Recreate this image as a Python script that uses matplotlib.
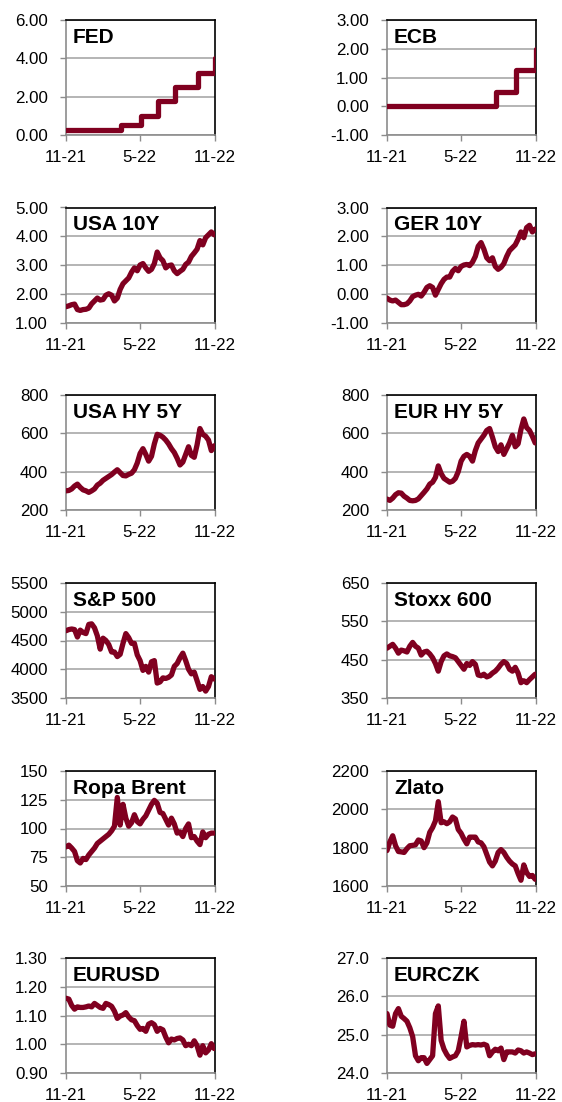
import matplotlib
matplotlib.use("Agg")
import matplotlib.pyplot as plt
from matplotlib.ticker import FormatStrFormatter
import pandas as pd

plt.rcParams['font.family'] = ['Liberation Sans', 'DejaVu Sans']

# ---------------- data ----------------
weeks = pd.date_range('2021-11-02', periods=53, freq='7D')

fed_dates = ['2021-11-02', '2022-03-17', '2022-05-05', '2022-06-16', '2022-07-28', '2022-09-22', '2022-11-03']
fed_rates = [0.25, 0.50, 1.00, 1.75, 2.50, 3.25, 4.00]
ecb_dates = ['2021-11-02', '2022-07-27', '2022-09-14', '2022-11-02', '2022-11-03']
ecb_rates = [0.00, 0.50, 1.25, 2.00, 2.00]

usa10y = [1.55, 1.58, 1.62, 1.64, 1.45, 1.42, 1.45, 1.46, 1.50, 1.65, 1.75, 1.85, 1.78, 1.80, 1.95, 2.00,
          1.95, 1.75, 1.85, 2.15, 2.35, 2.45, 2.55, 2.75, 2.90, 2.80, 3.00, 3.05, 2.90, 2.78, 2.85, 3.05,
          3.45, 3.25, 3.15, 2.90, 2.98, 3.00, 2.80, 2.70, 2.78, 2.85, 3.02, 3.10, 3.30, 3.42, 3.55, 3.85,
          3.70, 3.95, 4.05, 4.15, 4.05]
ger10y = [-0.15, -0.22, -0.25, -0.22, -0.30, -0.38, -0.38, -0.35, -0.25, -0.10, -0.05, -0.02, -0.08, 0.05,
          0.22, 0.28, 0.22, -0.05, 0.15, 0.35, 0.50, 0.58, 0.58, 0.78, 0.88, 0.80, 0.95, 1.00, 1.02, 0.98,
          1.10, 1.30, 1.65, 1.78, 1.55, 1.25, 1.15, 1.25, 0.95, 0.85, 0.92, 1.05, 1.30, 1.50, 1.60, 1.70,
          1.90, 2.15, 1.95, 2.30, 2.38, 2.15, 2.25]
usahy = [300, 302, 310, 325, 335, 318, 305, 300, 292, 300, 310, 330, 340, 355, 365, 375, 385, 398, 410,
         395, 380, 378, 386, 392, 410, 445, 495, 520, 490, 455, 480, 545, 595, 590, 580, 565, 545, 520,
         500, 470, 435, 450, 490, 530, 485, 475, 540, 625, 595, 585, 565, 510, 535]
eurhy = [257, 250, 262, 280, 290, 288, 272, 262, 250, 248, 250, 258, 275, 292, 310, 335, 345, 370, 430,
         390, 365, 355, 345, 350, 365, 400, 455, 480, 490, 480, 455, 510, 550, 570, 590, 615, 625, 580,
         530, 505, 540, 490, 520, 550, 590, 530, 545, 620, 675, 630, 615, 585, 550]
sp500 = [4670, 4690, 4700, 4690, 4560, 4680, 4640, 4620, 4780, 4790, 4720, 4580, 4350, 4540, 4500, 4430,
         4300, 4300, 4220, 4260, 4450, 4620, 4550, 4450, 4450, 4250, 4150, 3980, 4050, 3950, 4130, 4150,
         3760, 3780, 3850, 3840, 3860, 3900, 4050, 4100, 4200, 4280, 4150, 4000, 3920, 3950, 3800, 3650,
         3700, 3620, 3700, 3870, 3830]
stoxx600 = [480, 485, 490, 480, 467, 475, 473, 470, 485, 495, 485, 480, 462, 470, 472, 465, 455, 440, 420,
            445, 460, 465, 460, 458, 455, 445, 435, 425, 440, 435, 445, 438, 410, 408, 412, 405, 408, 415,
            420, 428, 438, 445, 440, 425, 420, 430, 415, 390, 395, 390, 398, 405, 412]
brent = [84, 85.5, 83, 80, 72, 70, 74, 73, 77, 80, 83, 87, 89, 91, 93, 95, 98, 102, 127, 103, 121, 109,
         102, 105, 112, 106, 104, 108, 111, 116, 121, 124.5, 122, 114, 113, 108, 103, 109, 104, 96, 97,
         93, 100, 104, 92, 93, 89, 86, 97, 92, 95, 96, 96]
gold = [1785, 1830, 1862, 1810, 1780, 1778, 1775, 1795, 1810, 1812, 1815, 1840, 1835, 1800, 1825, 1880,
        1905, 1940, 2040, 1930, 1935, 1925, 1935, 1960, 1950, 1895, 1875, 1845, 1820, 1855, 1855, 1855,
        1830, 1825, 1805, 1765, 1725, 1705, 1730, 1775, 1790, 1775, 1750, 1730, 1715, 1705, 1665, 1630,
        1710, 1670, 1650, 1655, 1635]
eurusd = [1.160, 1.157, 1.135, 1.122, 1.130, 1.128, 1.128, 1.130, 1.133, 1.130, 1.142, 1.135, 1.128, 1.125,
          1.142, 1.138, 1.132, 1.115, 1.090, 1.098, 1.102, 1.110, 1.095, 1.085, 1.082, 1.065, 1.052, 1.055,
          1.045, 1.070, 1.075, 1.068, 1.045, 1.055, 1.050, 1.025, 1.005, 1.018, 1.015, 1.020, 1.022, 1.015,
          0.995, 1.000, 0.995, 1.012, 0.995, 0.962, 0.995, 0.970, 0.980, 1.002, 0.985]
eurczk = [25.55, 25.25, 25.22, 25.55, 25.68, 25.48, 25.42, 25.35, 25.18, 24.95, 24.45, 24.32, 24.40, 24.40,
          24.25, 24.35, 24.45, 25.55, 25.75, 24.85, 24.62, 24.48, 24.38, 24.42, 24.45, 24.58, 24.95, 25.35,
          24.68, 24.72, 24.74, 24.73, 24.74, 24.73, 24.75, 24.72, 24.45, 24.55, 24.62, 24.58, 24.65, 24.35,
          24.55, 24.55, 24.55, 24.52, 24.60, 24.58, 24.52, 24.55, 24.52, 24.48, 24.50]

x_ticks = ['2021-11-02', '2022-05-02', '2022-11-03']
x_labels = ['11-21', '5-22', '11-22']

panels = [
    # title, x, y, step, yticks, fmt
    ('FED', fed_dates, fed_rates, True, [0, 2, 4, 6], '%.2f'),
    ('ECB', ecb_dates, ecb_rates, True, [-1, 0, 1, 2, 3], '%.2f'),
    ('USA 10Y', weeks, usa10y, False, [1, 2, 3, 4, 5], '%.2f'),
    ('GER 10Y', weeks, ger10y, False, [-1, 0, 1, 2, 3], '%.2f'),
    ('USA HY 5Y', weeks, usahy, False, [200, 400, 600, 800], '%d'),
    ('EUR HY 5Y', weeks, eurhy, False, [200, 400, 600, 800], '%d'),
    ('S&P 500', weeks, sp500, False, [3500, 4000, 4500, 5000, 5500], '%d'),
    ('Stoxx 600', weeks, stoxx600, False, [350, 450, 550, 650], '%d'),
    ('Ropa Brent', weeks, brent, False, [50, 75, 100, 125, 150], '%d'),
    ('Zlato', weeks, gold, False, [1600, 1800, 2000, 2200], '%d'),
    ('EURUSD', weeks, eurusd, False, [0.90, 1.00, 1.10, 1.20, 1.30], '%.2f'),
    ('EURCZK', weeks, eurczk, False, [24.0, 25.0, 26.0, 27.0], '%.1f'),
]

# ---------------- layout ----------------
W, H = 562, 1102
fig = plt.figure(figsize=(W / 100, H / 100), dpi=100)
col_left = [66, 387]
ax_w = 149
row_top = [20, 207.5, 395, 583, 771, 958]
ax_h = 115
line_color = '#800020'
grid_color = '#A0A0A0'
spine_gray = '#8C8C8C'

for i, (title, xs, ys, step, yticks, fmt) in enumerate(panels):
    r, c = divmod(i, 2)
    left = col_left[c] / W
    bottom = 1 - (row_top[r] + ax_h) / H
    ax = fig.add_axes([left, bottom, ax_w / W, ax_h / H])
    xd = pd.to_datetime(xs)
    ax.plot(xd, ys, color=line_color, lw=3.8,
            drawstyle='steps-post' if step else 'default',
            solid_capstyle='round', solid_joinstyle='round', zorder=3)
    ax.set_xlim(pd.Timestamp(x_ticks[0]), pd.Timestamp(x_ticks[-1]))
    ax.set_ylim(yticks[0], yticks[-1])
    ax.set_yticks(yticks)
    ax.yaxis.set_major_formatter(FormatStrFormatter(fmt))
    ax.set_xticks(pd.to_datetime(x_ticks))
    ax.set_xticklabels(x_labels)
    ax.grid(axis='y', color=grid_color, lw=1.1, zorder=1)
    ax.grid(axis='x', visible=False)
    for s in ['top', 'right']:
        ax.spines[s].set_color('black')
        ax.spines[s].set_linewidth(1.2)
    for s in ['left', 'bottom']:
        ax.spines[s].set_color(spine_gray)
        ax.spines[s].set_linewidth(1.2)
    ax.tick_params(axis='both', direction='out', length=4.5, width=1.0, color=spine_gray,
                   labelsize=12.2, labelcolor='black')
    ax.tick_params(axis='y', pad=8.5)
    ax.tick_params(axis='x', pad=6.5)
    ax.annotate(title, xy=(0, 1), xycoords='axes fraction', xytext=(5, -5.5),
                textcoords='offset points', ha='left', va='top',
                fontsize=15, fontweight='bold', color='black', zorder=4)

fig.savefig('out.png', dpi=100)
